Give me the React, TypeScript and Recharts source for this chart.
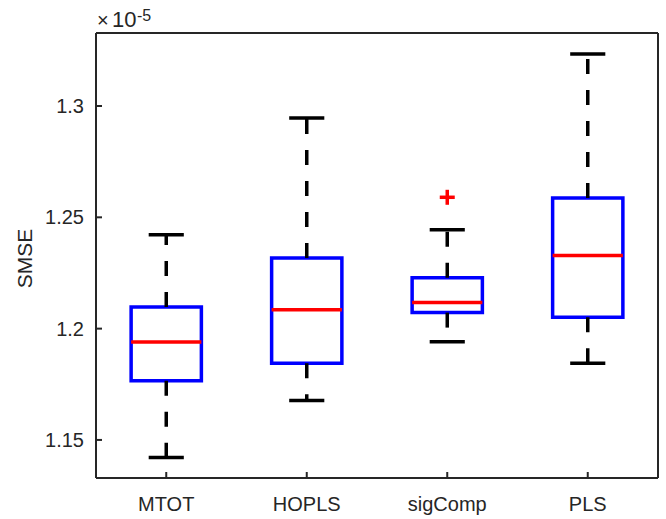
import { ComposedChart, ReferenceArea, ReferenceLine, Scatter, XAxis, YAxis } from 'recharts';

// values in units of 1e-5
const categories = ['MTOT', 'HOPLS', 'sigComp', 'PLS'];
const whiskerLow = [1.1421, 1.1677, 1.1941, 1.1844];
const boxLow = [1.1766, 1.1844, 1.2072, 1.2051];
const medians = [1.194, 1.2085, 1.2117, 1.2328];
const boxHigh = [1.2097, 1.2317, 1.2228, 1.2587];
const whiskerHigh = [1.2422, 1.2946, 1.2444, 1.3234];
const outliers = [{ x: 3, y: 1.259 }];
const yTicks = [1.15, 1.2, 1.25, 1.3];
const xTicks = [1, 2, 3, 4];

const yDomain = [1.1329, 1.3328];
const xDomain = [0.5, 4.5];
const axisColor = '#262626';
const font = '"Liberation Sans", Arial, Helvetica, sans-serif';

const PlusMarker = (p: any) => (
  <g stroke="#ff0000" strokeWidth={3.5}>
    <line x1={p.cx - 7.5} y1={p.cy} x2={p.cx + 7.5} y2={p.cy} />
    <line x1={p.cx} y1={p.cy - 7.5} x2={p.cx} y2={p.cy + 7.5} />
  </g>
);

export default function App() {
  return (
    <div style={{ position: 'absolute', left: 0, top: 0, width: 666, height: 519, background: '#fff', fontFamily: font }}>
      <ComposedChart width={666} height={519} margin={{ top: 0, right: 0, bottom: 0, left: 0 }}>
        <XAxis
          type="number"
          dataKey="x"
          domain={xDomain}
          ticks={xTicks}
          tickFormatter={(v: number) => categories[v - 1] ?? ''}
          height={41}
          tickSize={-6}
          tickMargin={25}
          axisLine={{ stroke: axisColor, strokeWidth: 2 }}
          tickLine={{ stroke: axisColor, strokeWidth: 2 }}
          tick={{ fill: axisColor, fontSize: 20 }}
          allowDataOverflow
        />
        <XAxis
          xAxisId="top"
          orientation="top"
          type="number"
          domain={xDomain}
          ticks={xTicks}
          height={33}
          tickSize={-6}
          axisLine={{ stroke: axisColor, strokeWidth: 2 }}
          tickLine={{ stroke: axisColor, strokeWidth: 2 }}
          tick={false}
          allowDataOverflow
        />
        <YAxis
          type="number"
          domain={yDomain}
          ticks={yTicks}
          width={96}
          tickSize={-6}
          tickMargin={18}
          axisLine={{ stroke: axisColor, strokeWidth: 2 }}
          tickLine={{ stroke: axisColor, strokeWidth: 2 }}
          tick={{ fill: axisColor, fontSize: 20 }}
          tickFormatter={(v: number) => String(v)}
          allowDataOverflow
        />
        <YAxis
          yAxisId="right"
          orientation="right"
          type="number"
          domain={yDomain}
          ticks={yTicks}
          width={8}
          tickSize={-6}
          axisLine={{ stroke: axisColor, strokeWidth: 2 }}
          tickLine={{ stroke: axisColor, strokeWidth: 2 }}
          tick={false}
          allowDataOverflow
        />

        {categories.map((c, i) => {
          const x = i + 1;
          return (
            <>
              <ReferenceLine
                key={c + '-wu'}
                segment={[{ x, y: boxHigh[i] }, { x, y: whiskerHigh[i] }]}
                stroke="#000"
                strokeWidth={3.5}
                strokeDasharray="15 16"
              />
              <ReferenceLine
                key={c + '-wl'}
                segment={[{ x, y: boxLow[i] }, { x, y: whiskerLow[i] }]}
                stroke="#000"
                strokeWidth={3.5}
                strokeDasharray="15 16"
              />
              <ReferenceLine
                key={c + '-cu'}
                segment={[{ x: x - 0.125, y: whiskerHigh[i] }, { x: x + 0.125, y: whiskerHigh[i] }]}
                stroke="#000"
                strokeWidth={3.5}
              />
              <ReferenceLine
                key={c + '-cl'}
                segment={[{ x: x - 0.125, y: whiskerLow[i] }, { x: x + 0.125, y: whiskerLow[i] }]}
                stroke="#000"
                strokeWidth={3.5}
              />
              <ReferenceArea
                key={c + '-box'}
                x1={x - 0.25}
                x2={x + 0.25}
                y1={boxLow[i]}
                y2={boxHigh[i]}
                fill="none"
                fillOpacity={0}
                stroke="#0000ff"
                strokeWidth={3.5}
                strokeOpacity={1}
              />
              <ReferenceLine
                key={c + '-med'}
                segment={[{ x: x - 0.25, y: medians[i] }, { x: x + 0.25, y: medians[i] }]}
                stroke="#ff0000"
                strokeWidth={3.5}
              />
            </>
          );
        })}

        <Scatter data={outliers} dataKey="y" shape={PlusMarker} isAnimationActive={false} />
      </ComposedChart>

      {/* axis title and exponent label */}
      <svg width={666} height={519} style={{ position: 'absolute', left: 0, top: 0, pointerEvents: 'none' }}>
        <text
          transform="translate(32,258.5) rotate(-90)"
          textAnchor="middle"
          fontSize={21}
          fill={axisColor}
          fontFamily={font}
        >
          SMSE
        </text>
        <text x={97} y={27} fontSize={20} fill={axisColor} fontFamily={font}>×</text>
        <text x={112} y={27} fontSize={22} fill={axisColor} fontFamily={font}>10</text>
        <text x={137} y={21} fontSize={16} fill={axisColor} fontFamily={font}>-5</text>
      </svg>
    </div>
  );
}
